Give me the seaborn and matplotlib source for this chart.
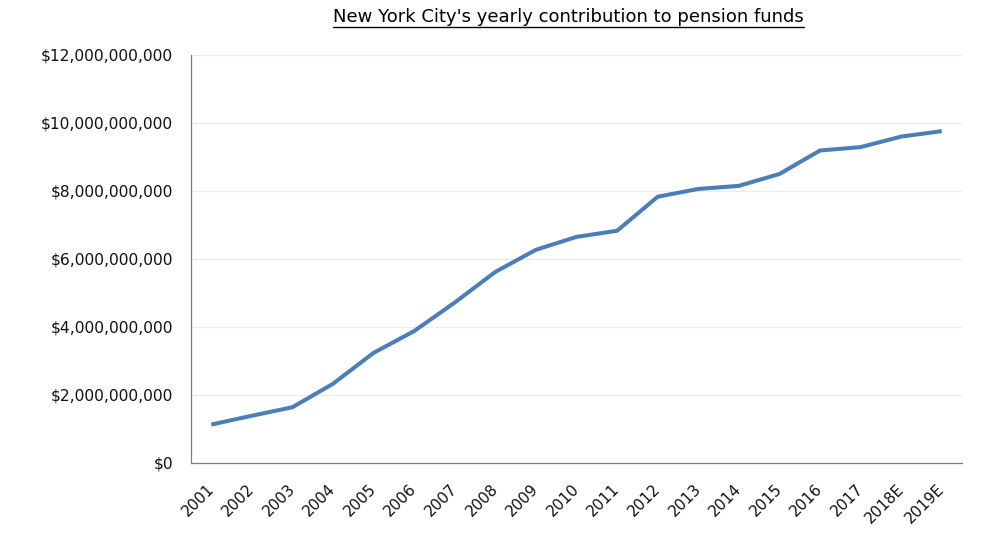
import matplotlib
matplotlib.use("Agg")
import matplotlib.pyplot as plt
import matplotlib.ticker as mticker
import matplotlib.transforms as mtransforms
from matplotlib.lines import Line2D
import seaborn as sns
import pandas as pd
import numpy as np

years = ["2001", "2002", "2003", "2004", "2005", "2006", "2007", "2008", "2009", "2010",
         "2011", "2012", "2013", "2014", "2015", "2016", "2017", "2018E", "2019E"]
# contributions in billions of dollars
contrib_bn = [1.13, 1.39, 1.64, 2.33, 3.24, 3.88, 4.72, 5.62, 6.27, 6.65,
              6.83, 7.83, 8.06, 8.15, 8.50, 9.19, 9.29, 9.60, 9.76]
y_ticks_bn = [0, 2, 4, 6, 8, 10, 12]

df = pd.DataFrame({"year": years, "value": np.array(contrib_bn) * 1e9})

sns.set_style("white")
plt.rcParams["font.family"] = ["DejaVu Sans"]

fig = plt.figure(figsize=(10.02, 5.40), dpi=100)
ax = fig.add_axes([0.1906, 0.1426, 0.7695, 0.7556])

sns.lineplot(data=df, x="year", y="value", ax=ax, color="#4A7EBB", linewidth=2.9,
             sort=False, solid_capstyle="butt")

ax.set_xlim(-0.5, len(years) - 0.5)
ax.set_ylim(0, 12e9)
ax.set_yticks([v * 1e9 for v in y_ticks_bn])
ax.yaxis.set_major_formatter(mticker.FuncFormatter(lambda v, p: "${:,.0f}".format(v)))
ax.grid(axis="y", color="#ececec", linewidth=0.8)
ax.set_axisbelow(True)

ax.set_xticks(range(len(years)))
ax.set_xticklabels(years, rotation=45, ha="right", rotation_mode="anchor")
ax.set_xticks(np.arange(-0.5, len(years)), minor=True)
ax.tick_params(axis="x", which="major", length=0, pad=13, labelsize=11, colors="#111111")
ax.tick_params(axis="x", which="minor", length=5, width=0.9, color="#7f7f7f")
ax.tick_params(axis="y", length=5, width=0.9, color="#7f7f7f", labelsize=11.2,
               labelcolor="#111111", pad=8)
ax.set_xlabel("")
ax.set_ylabel("")

# nudge the rotated year labels a little to the left
shift = mtransforms.ScaledTranslation(-5 / 100, 0, fig.dpi_scale_trans)
for lbl in ax.get_xticklabels():
    lbl.set_transform(lbl.get_transform() + shift)

for s in ["top", "right"]:
    ax.spines[s].set_visible(False)
for s in ["left", "bottom"]:
    ax.spines[s].set_color("#7f7f7f")
    ax.spines[s].set_linewidth(0.9)

title = fig.text(0.567, 0.968, "New York City's yearly contribution to pension funds",
                 ha="center", va="center", fontsize=13, color="black")
fig.canvas.draw()
bb = title.get_window_extent().transformed(fig.transFigure.inverted())
fig.add_artist(Line2D([bb.x0, bb.x1], [bb.y0 - 0.001, bb.y0 - 0.001],
                      transform=fig.transFigure, color="black", linewidth=1.0))

fig.savefig("out.png", dpi=100)
